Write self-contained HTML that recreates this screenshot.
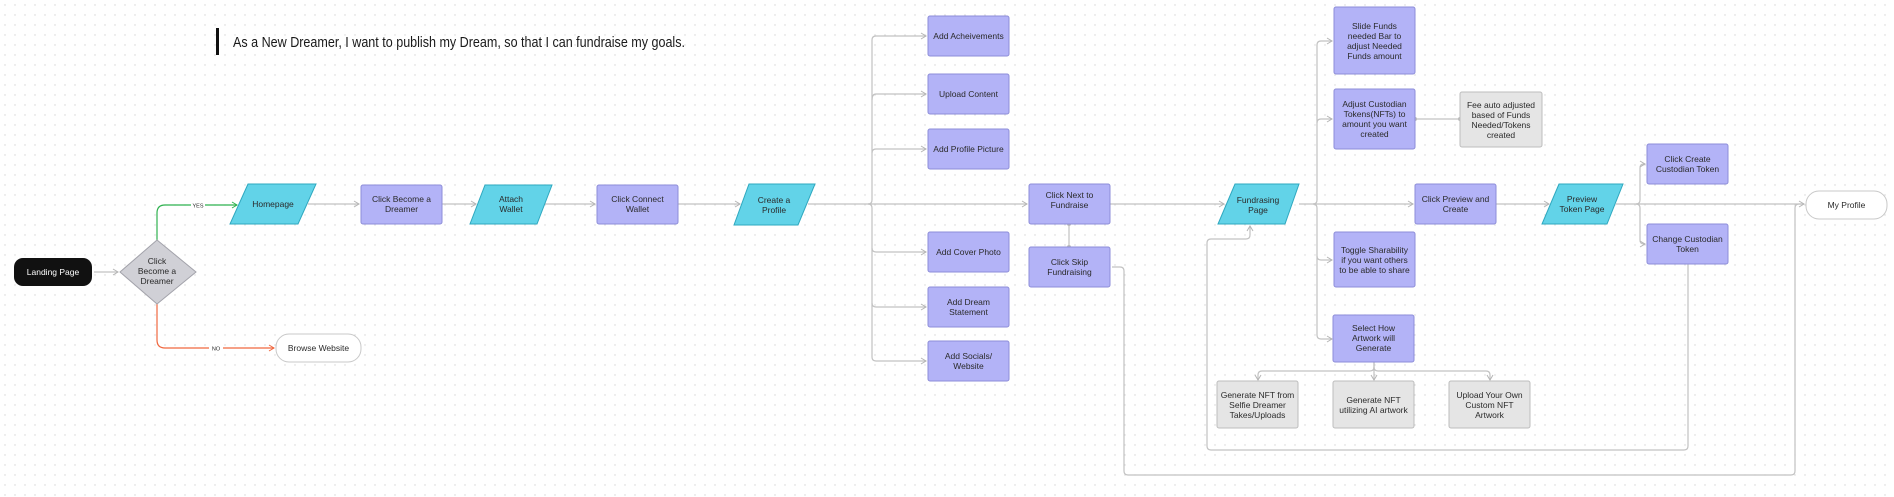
<!DOCTYPE html>
<html><head><meta charset="utf-8"><style>
html,body{margin:0;padding:0;background:#fff;}
svg{display:block;}
text{font-family:"Liberation Sans",sans-serif;font-size:8.5px;fill:#2a2a2a;text-anchor:middle;}
.p{fill:#b3b3f7;stroke:#8d8dd8;stroke-width:1;}
.c{fill:#62d3e8;stroke:#2ea8bf;stroke-width:1;}
.g{fill:#e5e5e5;stroke:#bdbdbd;stroke-width:1;}
.l{fill:none;stroke:#c2c2c2;stroke-width:1.2;}
</style></head><body>
<svg width="1894" height="497" viewBox="0 0 1894 497" xmlns="http://www.w3.org/2000/svg">
<defs>
<pattern id="dots" width="10" height="10" patternUnits="userSpaceOnUse"><circle cx="5" cy="5" r="0.7" fill="#d4d4d4"/></pattern>
<marker id="a" markerWidth="8" markerHeight="8" refX="6" refY="4" orient="auto" markerUnits="userSpaceOnUse"><path d="M1,1 L6,4 L1,7" fill="none" stroke="#b5b5b5" stroke-width="1"/></marker>
<marker id="ag" markerWidth="8" markerHeight="8" refX="6" refY="4" orient="auto" markerUnits="userSpaceOnUse"><path d="M1,1 L6,4 L1,7" fill="none" stroke="#2fb24f" stroke-width="1"/></marker>
<marker id="ar" markerWidth="8" markerHeight="8" refX="6" refY="4" orient="auto" markerUnits="userSpaceOnUse"><path d="M1,1 L6,4 L1,7" fill="none" stroke="#f0673f" stroke-width="1"/></marker>
</defs>
<rect width="1894" height="497" fill="url(#dots)"/>

<!-- title -->
<rect x="216" y="28" width="3" height="27" fill="#111"/>
<text x="233" y="47" style="font-size:14.5px;text-anchor:start;fill:#1a1a1a" textLength="452" lengthAdjust="spacingAndGlyphs">As a New Dreamer, I want to publish my Dream, so that I can fundraise my goals.</text>

<!-- connectors -->
<path class="l" d="M94,272 H118" marker-end="url(#a)"/>
<path d="M157,240 V213 Q157,205 165,205 H237" fill="none" stroke="#2fb24f" stroke-width="1.2" marker-end="url(#ag)"/>
<path d="M157,304 V340 Q157,348 165,348 H274" fill="none" stroke="#f0673f" stroke-width="1.2" marker-end="url(#ar)"/>
<rect x="191" y="201" width="14" height="8" fill="#fff"/><text x="198" y="207.5" style="font-size:5.5px">YES</text>
<rect x="209" y="344" width="14" height="8" fill="#fff"/><text x="216" y="350.5" style="font-size:5.5px">NO</text>
<path class="l" d="M308,204 H359" marker-end="url(#a)"/>
<path class="l" d="M442,204 H476" marker-end="url(#a)"/>
<path class="l" d="M545,204 H595" marker-end="url(#a)"/>
<path class="l" d="M678,204 H740" marker-end="url(#a)"/>
<path class="l" d="M808,204 H1027" marker-end="url(#a)"/>
<path class="l" d="M868,204 Q872,204 872,200 V40 Q872,36 876,36 H926" marker-end="url(#a)"/>
<path class="l" d="M872,100 Q872,94 876,94 H926" marker-end="url(#a)"/>
<path class="l" d="M872,153 Q872,149 876,149 H926" marker-end="url(#a)"/>
<path class="l" d="M868,204 Q872,204 872,208 V357 Q872,361 876,361 H926" marker-end="url(#a)"/>
<path class="l" d="M872,248 Q872,252 876,252 H926" marker-end="url(#a)"/>
<path class="l" d="M872,303 Q872,307 876,307 H926" marker-end="url(#a)"/>
<path class="l" d="M1069,224 V247"/><circle cx="1069" cy="224" r="2" fill="#bbb"/><circle cx="1069" cy="247" r="2" fill="#bbb"/>
<path class="l" d="M1110,204 H1224" marker-end="url(#a)"/>
<path class="l" d="M1112,267 H1120 Q1124,267 1124,271 V471 Q1124,475 1128,475 H1791 Q1795,475 1795,471 V208 Q1795,204 1799,204 H1804" marker-end="url(#a)"/>
<path class="l" d="M1299,204 H1413" marker-end="url(#a)"/>
<path class="l" d="M1313,204 Q1317,204 1317,200 V45 Q1317,41 1321,41 H1332" marker-end="url(#a)"/>
<path class="l" d="M1317,123 Q1317,119 1321,119 H1332" marker-end="url(#a)"/>
<path class="l" d="M1313,204 Q1317,204 1317,208 V335 Q1317,339 1321,339 H1332" marker-end="url(#a)"/>
<path class="l" d="M1317,256 Q1317,260 1321,260 H1332" marker-end="url(#a)"/>
<path class="l" d="M1415,119 H1460"/><circle cx="1415" cy="119" r="2" fill="#bbb"/><circle cx="1460" cy="119" r="2" fill="#bbb"/>
<path class="l" d="M1496,204 H1549" marker-end="url(#a)"/>
<path class="l" d="M1616,204 H1802"/>
<path class="l" d="M1636,204 Q1640,204 1640,200 V168 Q1640,164 1644,164 H1645" marker-end="url(#a)"/>
<path class="l" d="M1636,204 Q1640,204 1640,208 V240 Q1640,244 1644,244 H1645" marker-end="url(#a)"/>
<path class="l" d="M1688,264 V446 Q1688,450 1684,450 H1211 Q1207,450 1207,446 V243 Q1207,239 1211,239 H1246 Q1250,239 1250,235 V226" marker-end="url(#a)"/>
<path class="l" d="M1374,362 V367 Q1374,371 1370,371 H1262 Q1258,371 1258,375 V380" marker-end="url(#a)"/>
<path class="l" d="M1374,362 V380" marker-end="url(#a)"/>
<path class="l" d="M1374,367 Q1374,371 1378,371 H1486 Q1490,371 1490,375 V380" marker-end="url(#a)"/>

<!-- nodes -->
<rect x="14" y="258" width="78" height="28" rx="9" fill="#111"/>
<text x="53" y="275" style="fill:#fff">Landing Page</text>
<polygon points="157,240 196,272 157,304 120,272" fill="#d0d0d6" stroke="#a2a2aa"/>
<text x="157" y="264">Click</text><text x="157" y="274">Become a</text><text x="157" y="284">Dreamer</text>
<rect x="276" y="334" width="85" height="28" rx="13" fill="#fff" stroke="#c8c8c8"/>
<text x="318.5" y="351">Browse Website</text>

<polygon class="c" points="248,184 316,184 298,224 230,224"/><text x="273" y="207">Homepage</text>
<rect class="p" x="361" y="185" width="81" height="39" rx="2"/><text x="401.5" y="202">Click Become a</text><text x="401.5" y="212">Dreamer</text>
<polygon class="c" points="485,185 552,185 537,224 470,224"/><text x="511" y="202">Attach</text><text x="511" y="212">Wallet</text>
<rect class="p" x="597" y="185" width="81" height="39" rx="2"/><text x="637.5" y="202">Click Connect</text><text x="637.5" y="212">Wallet</text>
<polygon class="c" points="749,184 815,184 798,225 734,225"/><text x="774" y="203">Create a</text><text x="774" y="213">Profile</text>

<rect class="p" x="928" y="16" width="81" height="40" rx="2"/><text x="968.5" y="39">Add Acheivements</text>
<rect class="p" x="928" y="74" width="81" height="40" rx="2"/><text x="968.5" y="97">Upload Content</text>
<rect class="p" x="928" y="129" width="81" height="40" rx="2"/><text x="968.5" y="152">Add Profile Picture</text>
<rect class="p" x="928" y="232" width="81" height="40" rx="2"/><text x="968.5" y="255">Add Cover Photo</text>
<rect class="p" x="928" y="287" width="81" height="40" rx="2"/><text x="968.5" y="305">Add Dream</text><text x="968.5" y="315">Statement</text>
<rect class="p" x="928" y="341" width="81" height="40" rx="2"/><text x="968.5" y="359">Add Socials/</text><text x="968.5" y="369">Website</text>

<rect class="p" x="1029" y="184" width="81" height="40" rx="2"/><text x="1069.5" y="198">Click Next to</text><text x="1069.5" y="208">Fundraise</text>
<rect class="p" x="1029" y="247" width="81" height="40" rx="2"/><text x="1069.5" y="265">Click Skip</text><text x="1069.5" y="275">Fundraising</text>

<polygon class="c" points="1235,184 1299,184 1285,224 1218,224"/><text x="1258" y="203">Fundrasing</text><text x="1258" y="213">Page</text>

<rect class="p" x="1334" y="7" width="81" height="67" rx="2"/><text x="1374.5" y="29">Slide Funds</text><text x="1374.5" y="39">needed Bar to</text><text x="1374.5" y="49">adjust Needed</text><text x="1374.5" y="59">Funds amount</text>
<rect class="p" x="1334" y="89" width="81" height="60" rx="2"/><text x="1374.5" y="107">Adjust Custodian</text><text x="1374.5" y="117">Tokens(NFTs) to</text><text x="1374.5" y="127">amount you want</text><text x="1374.5" y="137">created</text>
<rect class="g" x="1460" y="92" width="82" height="55" rx="2"/><text x="1501" y="108">Fee auto adjusted</text><text x="1501" y="118">based of Funds</text><text x="1501" y="128">Needed/Tokens</text><text x="1501" y="138">created</text>
<rect class="p" x="1334" y="232" width="81" height="55" rx="2"/><text x="1374.5" y="253">Toggle Sharability</text><text x="1374.5" y="263">if you want others</text><text x="1374.5" y="273">to be able to share</text>
<rect class="p" x="1333" y="315" width="81" height="47" rx="2"/><text x="1373.5" y="331">Select How</text><text x="1373.5" y="341">Artwork will</text><text x="1373.5" y="351">Generate</text>
<rect class="g" x="1217" y="381" width="81" height="47" rx="2"/><text x="1257.5" y="398">Generate NFT from</text><text x="1257.5" y="408">Selfie Dreamer</text><text x="1257.5" y="418">Takes/Uploads</text>
<rect class="g" x="1333" y="381" width="81" height="47" rx="2"/><text x="1373.5" y="403">Generate NFT</text><text x="1373.5" y="413">utilizing AI artwork</text>
<rect class="g" x="1449" y="381" width="81" height="47" rx="2"/><text x="1489.5" y="398">Upload Your Own</text><text x="1489.5" y="408">Custom NFT</text><text x="1489.5" y="418">Artwork</text>

<rect class="p" x="1415" y="184" width="81" height="40" rx="2"/><text x="1455.5" y="202">Click Preview and</text><text x="1455.5" y="212">Create</text>
<polygon class="c" points="1559,184 1623,184 1607,224 1542,224"/><text x="1582" y="202">Preview</text><text x="1582" y="212">Token Page</text>
<rect class="p" x="1647" y="144" width="81" height="40" rx="2"/><text x="1687.5" y="162">Click Create</text><text x="1687.5" y="172">Custodian Token</text>
<rect class="p" x="1647" y="224" width="81" height="40" rx="2"/><text x="1687.5" y="242">Change Custodian</text><text x="1687.5" y="252">Token</text>
<rect x="1806" y="191" width="81" height="28" rx="13" fill="#fff" stroke="#c8c8c8"/><text x="1846.5" y="208">My Profile</text>
</svg>
</body></html>
